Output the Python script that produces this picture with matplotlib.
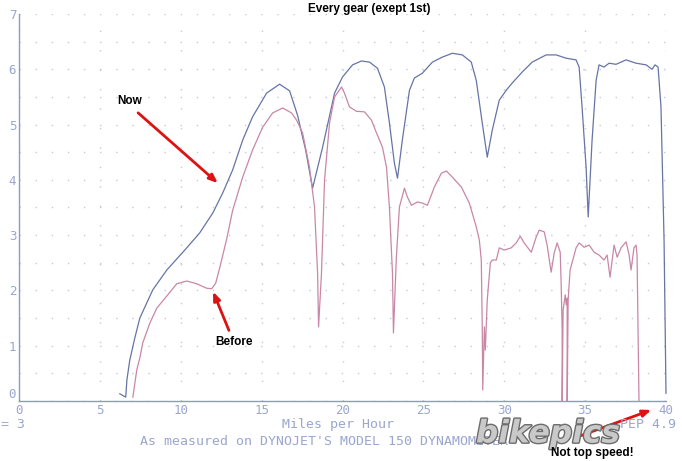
import numpy as np
import matplotlib.pyplot as plt
import matplotlib.patheffects as pe
from matplotlib.ticker import MultipleLocator

# valori (mph, potenza)
now_mph = [6.23, 6.60, 6.67, 6.85, 7.16, 7.47, 8.27, 9.14, 10.25, 11.17, 11.98, 12.59,
           13.21, 13.83, 14.44, 15.31, 16.11, 16.73, 17.22, 17.72, 18.15, 18.77, 19.51,
           20.00, 20.62, 21.17, 21.67, 22.16, 22.59, 22.90, 23.21, 23.40, 23.70, 24.14,
           24.44, 24.94, 25.56, 26.17, 26.79, 27.41, 27.96, 28.27, 28.64, 28.95, 29.26,
           29.69, 30.12, 30.49, 31.11, 31.73, 32.59, 33.21, 33.83, 34.44, 34.63, 34.81,
           35.06, 35.19, 35.43, 35.68, 35.86, 36.17, 36.48, 36.91, 37.53, 38.15, 38.77,
           39.14, 39.32, 39.51, 39.69, 39.88, 40.00]
now_val = [0.13, 0.07, 0.38, 0.74, 1.14, 1.50, 2.01, 2.37, 2.73, 3.04, 3.40, 3.76,
           4.18, 4.72, 5.14, 5.57, 5.73, 5.61, 5.17, 4.54, 3.85, 4.59, 5.57,
           5.86, 6.08, 6.15, 6.13, 6.02, 5.68, 5.03, 4.30, 4.03, 4.72, 5.62,
           5.84, 5.93, 6.13, 6.22, 6.29, 6.26, 6.13, 5.80, 5.03, 4.41, 4.90,
           5.44, 5.62, 5.75, 5.95, 6.13, 6.26, 6.26, 6.20, 6.17, 6.04, 5.32,
           4.23, 3.33, 4.72, 5.80, 6.08, 6.04, 6.11, 6.09, 6.17, 6.11, 6.08,
           6.00, 6.08, 6.04, 5.32, 2.91, 0.14]

before_mph = [7.04, 7.28, 7.47, 7.65, 8.09, 8.52, 9.14, 9.75, 10.37, 10.99, 11.60, 11.91,
              12.16, 12.41, 12.84, 13.21, 13.83, 14.44, 15.06, 15.68, 16.30, 16.85, 17.16,
              17.53, 17.96, 18.27, 18.46, 18.52, 18.70, 18.89, 19.20, 19.51, 19.94, 20.12,
              20.43, 20.86, 21.36, 21.79, 22.10, 22.47, 22.72, 22.90, 23.09, 23.15, 23.33,
              23.52, 23.83, 24.01, 24.26, 24.63, 24.94, 25.25, 25.68, 26.11, 26.42, 26.79,
              27.35, 27.84, 28.27, 28.46, 28.58, 28.64, 28.67, 28.77, 28.83, 28.95, 29.14,
              29.26, 29.51, 29.69, 30.00, 30.43, 30.74, 30.99, 31.23, 31.67, 31.98, 32.16,
              32.47, 32.65, 32.90, 33.09, 33.27, 33.46, 33.52, 33.58, 33.58, 33.64, 33.77,
              33.83, 33.89, 33.89, 33.95, 34.07, 34.20, 34.44, 34.63, 34.94, 35.25, 35.56,
              35.86, 36.17, 36.36, 36.54, 36.79, 36.98, 37.22, 37.53, 37.72, 37.84, 38.02,
              38.15, 38.21, 38.33]
before_val = [0.07, 0.56, 0.78, 1.05, 1.41, 1.68, 1.90, 2.12, 2.17, 2.12, 2.04, 2.03,
              2.13, 2.41, 2.93, 3.45, 4.05, 4.54, 4.95, 5.21, 5.30, 5.21, 5.08,
              4.85, 4.23, 3.51, 2.31, 1.34, 2.31, 4.00, 5.03, 5.50, 5.68, 5.57,
              5.32, 5.24, 5.23, 5.08, 4.85, 4.59, 4.23, 3.51, 2.31, 1.23, 2.60,
              3.51, 3.85, 3.69, 3.54, 3.60, 3.58, 3.54, 3.87, 4.12, 4.16, 4.05,
              3.87, 3.58, 3.15, 2.91, 2.55, 1.34, 0.20, 1.34, 0.92, 1.83, 2.50,
              2.55, 2.55, 2.77, 2.73, 2.77, 2.86, 2.98, 2.86, 2.69, 2.97, 3.09,
              3.06, 2.82, 2.33, 2.68, 2.86, 2.69, 2.10, 1.28, 0.0, 1.65, 1.92,
              1.74, 1.86, 0.0, 1.83, 2.37, 2.51, 2.77, 2.86, 2.78, 2.82, 2.69,
              2.64, 2.55, 2.64, 2.24, 2.82, 2.60, 2.77, 2.88, 2.64, 2.37, 2.77,
              2.82, 2.64, 0.0]

x_ticks = [0, 5, 10, 15, 20, 25, 30, 35, 40]
y_ticks = [0, 1, 2, 3, 4, 5, 6, 7]

W, H = 682, 461
fig = plt.figure(figsize=(W / 100, H / 100), dpi=100)
ax = fig.add_axes([19 / W, 1 - 401 / H, 647 / W, 387 / H])

plot_blue = '#8c9acb'
ax.plot(now_mph, now_val, color='#6674a6', lw=0.9, clip_on=False)
ax.plot(before_mph, before_val, color='#c987a6', lw=0.9, clip_on=False)

ax.set_xlim(0, 40)
ax.set_ylim(0, 7)
ax.set_xticks(x_ticks)
ax.set_yticks(y_ticks)
ax.yaxis.set_minor_locator(MultipleLocator(0.5))
ax.tick_params(length=0, which='both', colors=plot_blue, pad=2)
for lab in ax.get_xticklabels() + ax.get_yticklabels():
    lab.set_family('DejaVu Sans Mono')
    lab.set_fontsize(9)
    lab.set_color('#9aa6cf')
# lo zero dell'asse y sta un po' sopra la linea
ax.get_yticklabels()[0].set_va('bottom')

ax.grid(axis='y', which='both', color='#c4cadc', lw=1, linestyle=(0, (1, 10.6)))
ax.grid(axis='x', which='major', color='#c4cadc', lw=1, linestyle=(0, (1, 13)))

for s in ['top', 'right']:
    ax.spines[s].set_visible(False)
for s in ['left', 'bottom']:
    ax.spines[s].set_color(plot_blue)
    ax.spines[s].set_linewidth(1)

def px(x, y):
    return (x, H - y)

mono = dict(family='DejaVu Sans Mono', color='#9aa6cf', fontsize=9.5)
fig.text(338 / W, 1 - 424 / H, 'Miles per Hour', ha='center', va='center', **mono)
fig.text(140 / W, 1 - 441 / H, "As measured on DYNOJET'S MODEL 150 DYNAMOMETER",
         ha='left', va='center', **mono)
fig.text(1 / W, 1 - 424 / H, '= 3', ha='left', va='center', **mono)
fig.text(620 / W, 1 - 424 / H, 'PEP 4.9', ha='left', va='center', **mono)

# logo
fig.text(548 / W, 1 - 434 / H, 'bikepics', ha='center', va='center', fontsize=22.5,
         style='italic', weight='bold', color='#c9c9c9', family='DejaVu Sans',
         path_effects=[pe.withStroke(linewidth=2, foreground='#6c6c6c')])

fig.text(369 / W, 1 - 9 / H, 'Every gear (exept 1st)', ha='center', va='center',
         fontsize=8.5, weight='bold', family='Liberation Sans')

red = '#dd1313'
arrow = dict(arrowstyle='-|>,head_length=0.5,head_width=0.2', color=red, lw=2)
ax.annotate('', xy=px(220, 185), xytext=px(136, 111), xycoords='figure pixels',
            textcoords='figure pixels', arrowprops=arrow)
ax.annotate('', xy=px(212, 289), xytext=px(230, 333), xycoords='figure pixels',
            textcoords='figure pixels', arrowprops=arrow)
ax.annotate('', xy=px(654, 409), xytext=px(577, 437), xycoords='figure pixels',
            textcoords='figure pixels', arrowprops=arrow, annotation_clip=False)

lab = dict(fontsize=8.5, weight='bold', family='Liberation Sans', ha='center', va='center')
fig.text(130 / W, 1 - 101 / H, 'Now', **lab)
fig.text(234 / W, 1 - 342 / H, 'Before', **lab)
fig.text(592 / W, 1 - 453 / H, 'Not top speed!', **lab)

fig.savefig('out.png', dpi=100)
